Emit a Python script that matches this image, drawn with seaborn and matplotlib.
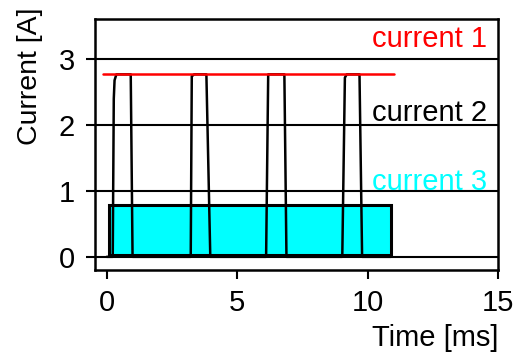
import numpy as np
import pandas as pd
import matplotlib
matplotlib.use("Agg")
import matplotlib.pyplot as plt
import seaborn as sns

# Supply current (flat level)
c1_time = [-0.15, 11.0]
c1_value = [2.77, 2.77]

# Pulsed current
c2_time = [0.0, 0.23, 0.27, 0.30, 0.37, 0.92, 0.99,
           3.22, 3.26, 3.35, 3.82, 3.97,
           6.11, 6.19, 6.81, 6.89,
           9.03, 9.13, 9.20, 9.69, 9.79, 10.9]
c2_value = [0.0, 0.0, 2.40, 2.68, 2.77, 2.77, 0.0,
            0.0, 2.74, 2.77, 2.77, 0.0,
            0.0, 2.77, 2.77, 0.0,
            0.0, 2.72, 2.77, 2.77, 0.0, 0.0]

# Constant block current
c3_start = 0.1
c3_end = 10.9
c3_bottom = 0.03
c3_level = 0.78

series_labels = ["current 1", "current 2", "current 3"]
series_colors = ["#ff0000", "#000000", "#00ffff"]
label_y = [3.18, 2.06, 1.01]

x_ticks = [0, 5, 10, 15]
y_ticks = [0, 1, 2, 3]

sns.set_theme(style="ticks")
plt.rcParams["font.family"] = ["Liberation Sans", "DejaVu Sans"]
plt.rcParams["text.color"] = "black"
plt.rcParams["axes.labelcolor"] = "black"

fig = plt.figure(figsize=(5.18, 3.52), dpi=100)
ax = fig.add_axes([95 / 518, 1 - 270 / 352, 403 / 518, 251 / 352])

# horizontal grid lines
for yv in y_ticks:
    ax.axhline(yv, color="black", lw=1.5, zorder=1)

# block current as a filled bar
ax.bar([c3_start], [c3_level - c3_bottom], width=c3_end - c3_start,
       bottom=c3_bottom, align="edge", color=series_colors[2],
       edgecolor="black", linewidth=2.2, zorder=2)

df2 = pd.DataFrame({"t": c2_time, "i": c2_value})
sns.lineplot(data=df2, x="t", y="i", sort=False, estimator=None,
             color="black", lw=1.8, ax=ax, zorder=3)

df1 = pd.DataFrame({"t": c1_time, "i": c1_value})
sns.lineplot(data=df1, x="t", y="i", sort=False, estimator=None,
             color=series_colors[0], lw=1.8, ax=ax, zorder=4)

for lab, col, yv in zip(series_labels, series_colors, label_y):
    ax.text(0.972, yv, lab, color=col, fontsize=21, ha="right",
            va="baseline", transform=ax.get_yaxis_transform(), zorder=5)

ax.set_xlim(-0.45, 15)
ax.set_ylim(-0.2, 3.61)
ax.set_xticks(x_ticks)
ax.set_yticks(y_ticks)
ax.tick_params(axis="both", labelsize=21, length=6.5, width=1.5,
               color="black", labelcolor="black", direction="out")
ax.tick_params(axis="x", pad=7)
ax.tick_params(axis="y", pad=8)
for sp in ax.spines.values():
    sp.set_linewidth(1.8)
    sp.set_color("black")

ax.set_xlabel("Time [ms]", fontsize=21, ha="right", va="center")
ax.xaxis.set_label_coords(1.0, -0.27)
ax.set_ylabel("Current [A]", fontsize=20.5, ha="right", va="center", rotation=90)
ax.yaxis.set_label_coords(-0.161, 1.045)

fig.savefig("out.png", dpi=100)
